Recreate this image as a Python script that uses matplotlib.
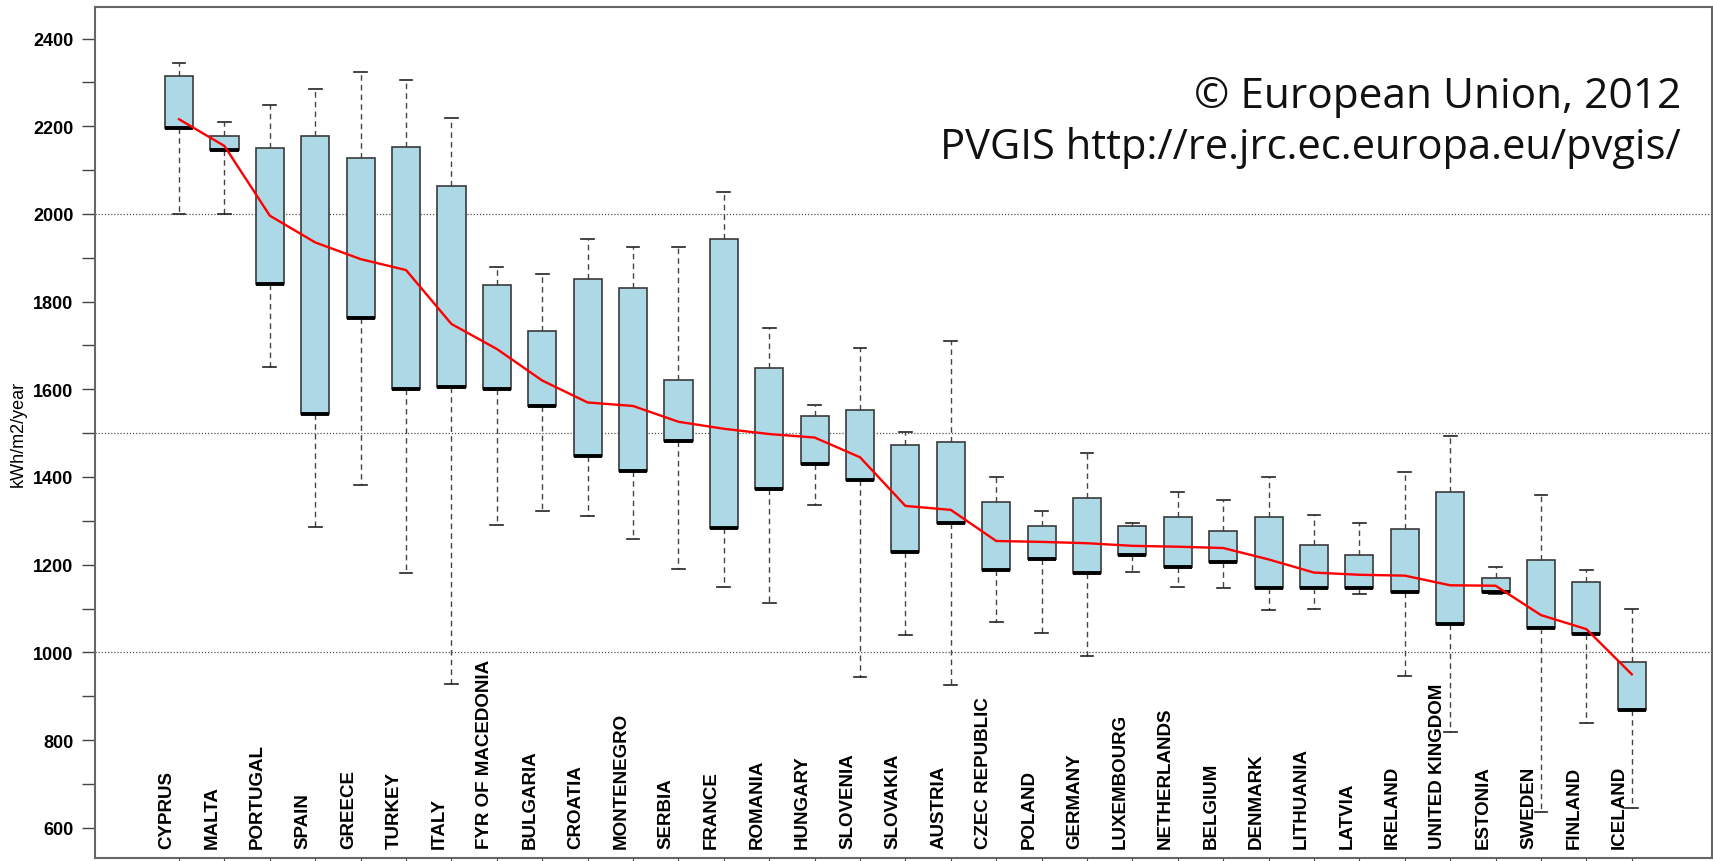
import matplotlib
matplotlib.use("Agg")
import matplotlib.pyplot as plt
import matplotlib.transforms as mtransforms

# countries sorted by mean yearly irradiation
countries = ["CYPRUS", "MALTA", "PORTUGAL", "SPAIN", "GREECE", "TURKEY", "ITALY",
             "FYR OF MACEDONIA", "BULGARIA", "CROATIA", "MONTENEGRO", "SERBIA",
             "FRANCE", "ROMANIA", "HUNGARY", "SLOVENIA", "SLOVAKIA", "AUSTRIA",
             "CZEC REPUBLIC", "POLAND", "GERMANY", "LUXEMBOURG", "NETHERLANDS",
             "BELGIUM", "DENMARK", "LITHUANIA", "LATVIA", "IRELAND",
             "UNITED KINGDOM", "ESTONIA", "SWEDEN", "FINLAND", "ICELAND"]

whisk_low = [2000, 2000, 1652, 1285, 1381, 1182, 928, 1290, 1323, 1311, 1258, 1190,
             1150, 1112, 1336, 943, 1040, 926, 1070, 1044, 992, 1183, 1150,
             1147, 1097, 1100, 1134, 945, 819, 1133, 636, 840, 646]
box_low = [2197, 2147, 1840, 1543, 1762, 1600, 1606, 1600, 1562, 1447, 1414, 1481,
           1283, 1372, 1429, 1393, 1229, 1296, 1188, 1214, 1182, 1222, 1195,
           1207, 1146, 1146, 1146, 1137, 1064, 1137, 1056, 1043, 869]
box_high = [2314, 2177, 2150, 2177, 2127, 2153, 2063, 1838, 1732, 1851, 1832, 1621,
            1942, 1648, 1538, 1552, 1473, 1480, 1344, 1289, 1352, 1288, 1309,
            1276, 1309, 1245, 1222, 1281, 1365, 1169, 1211, 1161, 979]
whisk_high = [2345, 2209, 2249, 2285, 2324, 2306, 2218, 1879, 1864, 1944, 1924, 1924,
              2050, 1739, 1565, 1694, 1502, 1710, 1400, 1323, 1454, 1296, 1365,
              1348, 1401, 1314, 1294, 1412, 1494, 1194, 1359, 1188, 1099]
mean_line = [2216, 2155, 1996, 1935, 1897, 1872, 1749, 1692, 1620, 1570, 1562, 1526,
             1510, 1498, 1490, 1445, 1334, 1325, 1254, 1252, 1249, 1243, 1241,
             1238, 1212, 1182, 1177, 1175, 1153, 1152, 1085, 1053, 950]

positions = list(range(1, len(countries) + 1))

stats = []
for i, name in enumerate(countries):
    stats.append({"label": name, "whislo": whisk_low[i], "q1": box_low[i],
                  "med": box_low[i], "q3": box_high[i], "whishi": whisk_high[i],
                  "fliers": []})

fig = plt.figure(figsize=(17.13, 8.62), dpi=100)
ax = fig.add_axes([0.0555, 0.0035, 0.944, 0.9872])

ax.bxp(stats, positions=positions, widths=0.62, patch_artist=True,
       showfliers=False, capwidths=0.28,
       boxprops=dict(facecolor="#add8e6", edgecolor="#3a3a3a", linewidth=1.2),
       medianprops=dict(color="black", linewidth=2.8),
       whiskerprops=dict(color="#444444", linestyle=(0, (4, 3)), linewidth=1.0),
       capprops=dict(color="#222222", linewidth=1.2))

ax.plot(positions, mean_line, color="red", linewidth=1.7, zorder=5)

for v in [1000, 1500, 2000]:
    ax.axhline(v, color="#555555", linestyle=(0, (1, 1.5)), linewidth=0.9, zorder=0)

ax.set_xlim(-0.85, 34.77)
ax.set_ylim(531, 2472)

ax.set_yticks(range(600, 2500, 100))
ax.set_yticklabels([str(v) if v % 200 == 0 else "" for v in range(600, 2500, 100)],
                   fontfamily="Liberation Sans", fontweight="bold", fontsize=13)
ax.tick_params(axis="y", direction="out", length=9.5, width=1.0, color="#444444", pad=6)
ax.set_xticks(positions)
ax.set_xticklabels([])
ax.tick_params(axis="x", direction="out", length=6, color="#444444")

ax.set_ylabel("kWh/m2/year", fontfamily="Liberation Sans", fontsize=13, labelpad=2)
ax.yaxis.set_label_coords(-0.042, 0.5)

for s in ax.spines.values():
    s.set_color("#666666")
    s.set_linewidth(1.5)

# country names written inside the plot area
trans = mtransforms.blended_transform_factory(ax.transData, ax.transAxes)
for i, name in enumerate(countries):
    ax.text(positions[i] - 0.27, 0.012, name, transform=trans, rotation=90,
            ha="center", va="bottom", fontfamily="Liberation Sans",
            fontweight="bold", fontsize=13.5)

fig.text(1681 / 1713, 1 - 108 / 862, "\u00a9 European Union, 2012", ha="right",
         va="baseline", fontfamily="Open Sans", fontsize=30.5, color="#111111")
fig.text(1681 / 1713, 1 - 159 / 862, "PVGIS http://re.jrc.ec.europa.eu/pvgis/",
         ha="right", va="baseline", fontfamily="Open Sans", fontsize=30,
         color="#111111")

fig.savefig("out.png", dpi=100)
